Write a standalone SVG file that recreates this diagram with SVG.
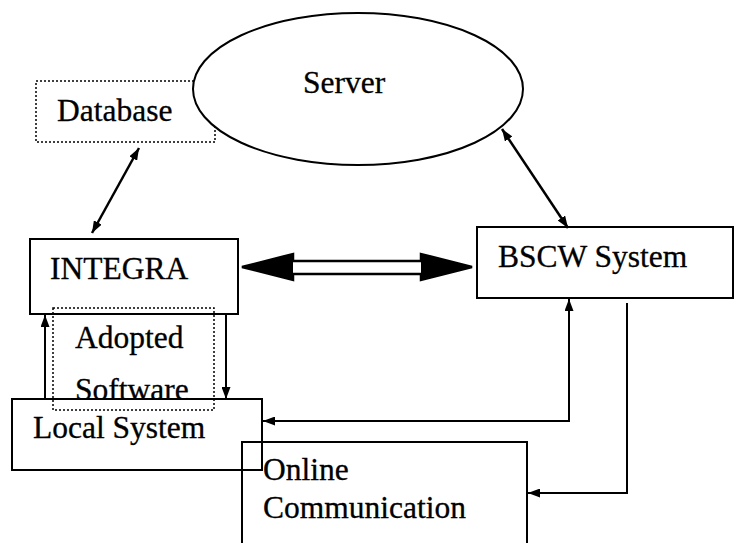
<svg xmlns="http://www.w3.org/2000/svg" width="734" height="543" viewBox="0 0 734 543">
<style>
text{font-family:"Liberation Serif","Times New Roman",serif;font-size:31.5px;fill:#000;stroke:#000;stroke-width:0.3}
.box{fill:#fff;stroke:#000;stroke-width:2}
.open{fill:none;stroke:#000;stroke-width:2}
.dot{fill:none;stroke:#000;stroke-width:1.5;stroke-dasharray:2 2}
.ln{fill:none;stroke:#000;stroke-width:2.5}
.thin{fill:none;stroke:#000;stroke-width:2}
</style>
<defs>
<marker id="ah" viewBox="0 0 12 9" refX="12" refY="4.5" markerWidth="12" markerHeight="9" markerUnits="userSpaceOnUse" orient="auto-start-reverse">
<path d="M0,0 L12,4.5 L0,9 Z" fill="#000"/>
</marker>
</defs>
<g id="database">
<rect class="dot" x="36" y="81" width="179" height="61"/>
<text x="57" y="121">Database</text>
</g>
<g id="server">
<ellipse class="box" cx="358" cy="89" rx="165" ry="76"/>
<text x="303" y="93">Server</text>
</g>
<g id="integra">
<rect class="box" x="30" y="239" width="208" height="75"/>
<text x="50" y="279">INTEGRA</text>
</g>
<g id="bscw">
<rect class="box" x="477" y="227" width="256" height="71"/>
<text x="498" y="267">BSCW System</text>
</g>
<g id="adopted-software">
<text x="75" y="348">Adopted</text>
<text x="75" y="400">Software</text>
</g>
<g id="local-system">
<rect class="box" x="12" y="399" width="250" height="71"/>
<text x="33" y="438">Local System</text>
</g>
<g id="online-communication">
<path class="open" d="M242,543 V442 H527 V543"/>
<text x="263" y="480">Online</text>
<text x="263" y="518">Communication</text>
</g>
<g id="adopted-box">
<rect class="dot" x="53" y="308" width="161" height="102"/>
</g>
<g id="connectors">
<line class="ln" x1="139" y1="148" x2="92" y2="233" marker-start="url(#ah)" marker-end="url(#ah)"/>
<line class="ln" x1="502" y1="129" x2="568" y2="228" marker-start="url(#ah)" marker-end="url(#ah)"/>
<path d="M242,267 L293,254 L293,261 L421,261 L421,254 L472,267 L421,280 L421,274 L293,274 L293,280 Z" fill="#fff" stroke="#000" stroke-width="2.5" stroke-linejoin="miter"/>
<path d="M242,267 L293,254 L293,280 Z M472,267 L421,254 L421,280 Z" fill="#000"/>
<line class="thin" x1="45" y1="399" x2="45" y2="315" marker-end="url(#ah)"/>
<line class="thin" x1="226" y1="315" x2="226" y2="399" marker-end="url(#ah)"/>
<path class="thin" d="M263,421 H569 V299" marker-start="url(#ah)" marker-end="url(#ah)"/>
<path class="thin" d="M627,303 V493 H528" marker-end="url(#ah)"/>
</g>
</svg>
